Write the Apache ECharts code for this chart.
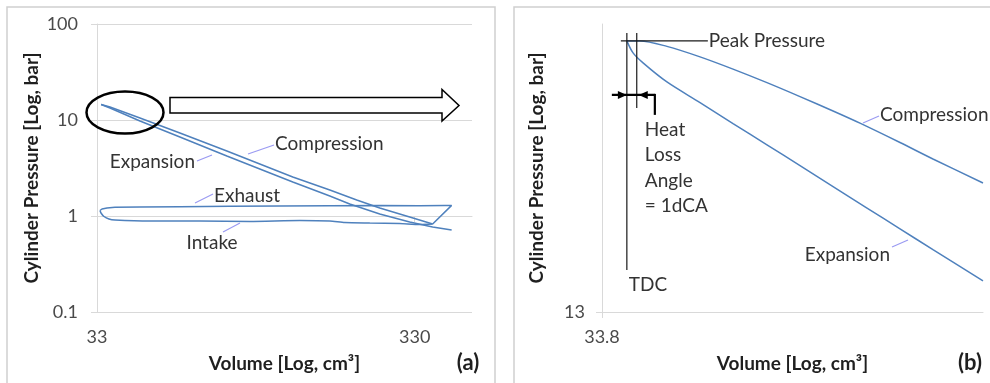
<!DOCTYPE html>
<html>
<head>
<meta charset="utf-8">
<script src="https://cdn.jsdelivr.net/npm/echarts@6/dist/echarts.min.js"></script>
<style>
  html, body { margin: 0; padding: 0; background: #ffffff; }
  #chart { width: 990px; height: 383px; }
</style>
</head>
<body>
<div id="chart"></div>
<script>
// ---------- Panel (a): whole motored cycle, log-log ----------
const aVolumeTicks = [33, 330];
const aPressureTicks = [0.1, 1, 10, 100];
const aVolumeRange = [33, 500];
const aPressureRange = [0.1, 100];

const aCompressionVolume   = [375.9, 318.3, 256.2, 216.8, 178.4, 136.4, 107.4, 84.58, 60.18, 45.06, 36.26, 34.0];
const aCompressionPressure = [0.825, 0.976, 1.212, 1.468, 1.866, 2.548, 3.481, 4.754, 7.319, 10.49, 13.66, 14.5];

const aExpansionVolume   = [34.0, 36.26, 45.06, 60.18, 84.58, 107.4, 136.4, 178.4, 206.1, 256.2, 318.3, 375.9, 431.4];
const aExpansionPressure = [14.5, 13.34, 9.763, 6.653, 4.217, 3.087, 2.261, 1.616, 1.334, 1.049, 0.866, 0.768, 0.715];

const aExhaustVolume   = [375.9, 431.4, 410.1, 342.2, 256.2, 178.4, 124.2, 86.44, 60.18, 45.06, 37.59, 35.48, 34.22, 33.72];
const aExhaustPressure = [0.825, 1.290, 1.290, 1.282, 1.288, 1.279, 1.271, 1.262, 1.250, 1.244, 1.231, 1.212, 1.183, 1.141];

const aIntakeVolume   = [33.72, 33.97, 34.72, 35.99, 37.59, 48.44, 69.57, 99.92, 143.5, 178.4, 198.8, 238.3, 296.0, 342.2, 375.9];
const aIntakePressure = [1.141, 1.075, 0.988, 0.931, 0.909, 0.887, 0.887, 0.877, 0.898, 0.887, 0.855, 0.845, 0.835, 0.816, 0.825];

// ---------- Panel (b): close-up around TDC ----------
const bVolumeTicks = [33.8];
const bPressureTicks = [13];
const bVolumeRange = [33.8, 37];
const bPressureRange = [13, 14.6];

const bCompressionVolume   = [37.0, 36.563, 36.278, 35.935, 35.706, 35.427, 35.150, 34.868, 34.596, 34.325, 34.106, 34.0];
const bCompressionPressure = [13.694, 13.827, 13.919, 14.028, 14.097, 14.179, 14.259, 14.337, 14.408, 14.469, 14.501, 14.501];

const bExpansionVolume   = [34.0, 34.050, 34.131, 34.325, 34.596, 34.868, 35.150, 35.427, 35.706, 35.995, 36.278, 36.563, 37.0];
const bExpansionPressure = [14.501, 14.431, 14.373, 14.263, 14.145, 14.026, 13.906, 13.790, 13.674, 13.556, 13.443, 13.331, 13.164];

const tdcVolume = 34.0;        // top dead centre
const heatLossVolume = 34.08;  // 1 dCA after TDC
const peakPressure = 14.501;

// ---------- helpers ----------
const ax = v => Math.log10(v / aVolumeRange[0]);
const ay = p => Math.log10(p);
const bx = v => Math.log10(v / bVolumeRange[0]);
const by = p => Math.log10(p / bPressureRange[0]);
const pairs = (vs, ps, fx, fy) => vs.map((v, i) => [fx(v), fy(ps[i])]);
const tickFormatter = (ticks, f) => val => {
  const t = ticks.find(t => Math.abs(f(t) - val) < 1e-6);
  return t === undefined ? '' : String(t);
};

const FONT = 'Lato, "Open Sans", sans-serif';
const GRID_GREY = '#d9d9d9';
const CURVE = '#4f81bd';
const LEADER = '#9a9af2';
const TEXT = '#333333';
const TICK_TEXT = '#4a4a4a';
const TITLE = '#1f1f1f';

function axisBase(extra) {
  return Object.assign({
    type: 'value',
    axisLine: { show: true, lineStyle: { color: GRID_GREY, width: 1 } },
    axisTick: { show: true, length: 6, lineStyle: { color: GRID_GREY, width: 1 } },
    splitLine: { show: true, showMaxLine: false, lineStyle: { color: GRID_GREY, width: 1 } },
    axisLabel: { color: TICK_TEXT, fontFamily: FONT, fontSize: 18 },
    nameLocation: 'middle',
    nameTextStyle: { color: TITLE, fontFamily: FONT, fontSize: 19, fontWeight: 'bold' }
  }, extra);
}

const curveSeries = (name, data, xi, smooth) => ({
  name, type: 'line', xAxisIndex: xi, yAxisIndex: xi, data,
  symbol: 'none', smooth, animation: false, silent: true,
  lineStyle: { color: CURVE, width: 1.5 }
});

const chart = echarts.init(document.getElementById('chart'), null, { renderer: 'canvas' });

chart.setOption({
  backgroundColor: '#ffffff',
  animation: false,
  grid: [
    { left: 97, top: 24, width: 375, height: 288 },
    { left: 602, top: 24, width: 381, height: 288 }
  ],
  xAxis: [
    axisBase({
      gridIndex: 0, min: 0, max: ax(aVolumeRange[1]), interval: 1,
      name: 'Volume [Log, cm³]', nameGap: 42,
      axisTick: { show: true, length: 6, customValues: aVolumeTicks.map(ax), lineStyle: { color: GRID_GREY } },
      axisLabel: { color: TICK_TEXT, fontFamily: FONT, fontSize: 18, margin: 16,
        customValues: aVolumeTicks.map(ax), formatter: tickFormatter(aVolumeTicks, ax) }
    }),
    axisBase({
      gridIndex: 1, min: 0, max: bx(bVolumeRange[1]), interval: 1,
      name: 'Volume [Log, cm³]', nameGap: 42,
      splitLine: { show: false },
      axisTick: { show: true, length: 6, customValues: bVolumeTicks.map(bx), lineStyle: { color: GRID_GREY } },
      axisLabel: { color: TICK_TEXT, fontFamily: FONT, fontSize: 18, margin: 16,
        customValues: bVolumeTicks.map(bx), formatter: tickFormatter(bVolumeTicks, bx) }
    })
  ],
  yAxis: [
    axisBase({
      gridIndex: 0, min: ay(aPressureRange[0]), max: ay(aPressureRange[1]), interval: 1,
      name: 'Cylinder Pressure [Log, bar]', nameGap: 56,
      splitLine: { show: true, lineStyle: { color: GRID_GREY, width: 1 } },
      axisTick: { show: true, length: 6, customValues: aPressureTicks.map(ay), lineStyle: { color: GRID_GREY } },
      axisLabel: { color: TICK_TEXT, fontFamily: FONT, fontSize: 18, margin: 19,
        customValues: aPressureTicks.map(ay), formatter: tickFormatter(aPressureTicks, ay) }
    }),
    axisBase({
      gridIndex: 1, min: 0, max: by(bPressureRange[1]), interval: 1,
      name: 'Cylinder Pressure [Log, bar]', nameGap: 56,
      splitLine: { show: false },
      axisTick: { show: true, length: 6, customValues: bPressureTicks.map(by), lineStyle: { color: GRID_GREY } },
      axisLabel: { color: TICK_TEXT, fontFamily: FONT, fontSize: 18, margin: 17,
        customValues: bPressureTicks.map(by), formatter: tickFormatter(bPressureTicks, by) }
    })
  ],
  series: [
    curveSeries('Compression', pairs(aCompressionVolume, aCompressionPressure, ax, ay), 0, false),
    curveSeries('Expansion', pairs(aExpansionVolume, aExpansionPressure, ax, ay), 0, false),
    curveSeries('Exhaust', pairs(aExhaustVolume, aExhaustPressure, ax, ay), 0, false),
    curveSeries('Intake', pairs(aIntakeVolume, aIntakePressure, ax, ay), 0, 0.2),
    curveSeries('Compression', pairs(bCompressionVolume, bCompressionPressure, bx, by), 1, 0.3),
    curveSeries('Expansion', pairs(bExpansionVolume, bExpansionPressure, bx, by), 1, 0.3)
  ]
});

// ---------- annotations ----------
const txt = (text, x, y, opts) => Object.assign({
  type: 'text', z: 10, silent: true,
  style: Object.assign({ text, x, y, fill: TEXT, font: '19px ' + FONT, align: 'left', verticalAlign: 'middle' }, opts || {})
});
const seg = (x1, y1, x2, y2, stroke, w) => ({
  type: 'line', z: 10, silent: true,
  shape: { x1, y1, x2, y2 }, style: { stroke, lineWidth: w }
});

const tdc = chart.convertToPixel({ gridIndex: 1 }, [bx(tdcVolume), by(peakPressure)]);
const hl = chart.convertToPixel({ gridIndex: 1 }, [bx(heatLossVolume), by(peakPressure)]);
const tx = tdc[0], ty = tdc[1], hx = hl[0];
const arrowY = ty + 54;

chart.setOption({
  graphic: [
    // panel frames
    { type: 'rect', z: 0, silent: true, shape: { x: 7, y: 7, width: 488, height: 420 },
      style: { fill: 'none', stroke: '#d0d0d0', lineWidth: 1.5 } },
    { type: 'rect', z: 0, silent: true, shape: { x: 514, y: 7, width: 500, height: 420 },
      style: { fill: 'none', stroke: '#d0d0d0', lineWidth: 1.5 } },

    // panel (a) callouts
    seg(248, 154, 274, 145, LEADER, 1.2), txt('Compression', 275, 144),
    seg(197, 161, 212, 155, LEADER, 1.2), txt('Expansion', 195, 162, { align: 'right' }),
    seg(195, 203, 213, 194, LEADER, 1.2), txt('Exhaust', 214, 196),
    seg(223, 232, 240, 223, LEADER, 1.2), txt('Intake', 212, 243, { align: 'center' }),

    // panel (a) zoom marker and arrow
    { type: 'ellipse', z: 10, silent: true, shape: { cx: 125, cy: 112.5, rx: 38.5, ry: 21 },
      style: { fill: 'none', stroke: '#000000', lineWidth: 2.5 } },
    { type: 'polygon', z: 10, silent: true,
      shape: { points: [[170, 97.5], [442, 97.5], [442, 89.5], [459, 105.5], [442, 121], [442, 113], [170, 113]] },
      style: { fill: '#ffffff', stroke: '#000000', lineWidth: 1.5 } },

    // panel (b) TDC, peak pressure and heat-loss angle markers
    seg(tx, ty - 8, tx, 270, '#1a1a1a', 1.2),
    seg(hx, ty - 8, hx, ty + 67, '#1a1a1a', 1.2),
    seg(tx - 6, ty, tx + 81, ty, '#1a1a1a', 1.2),
    seg(tx - 15, arrowY, tx + 28, arrowY, '#000000', 2.2),
    seg(tx + 28, arrowY - 1, tx + 28, arrowY + 20, '#000000', 2.2),
    { type: 'polygon', z: 10, silent: true,
      shape: { points: [[tx - 9, arrowY - 4], [tx, arrowY], [tx - 9, arrowY + 4]] },
      style: { fill: '#000000' } },
    { type: 'polygon', z: 10, silent: true,
      shape: { points: [[hx + 11, arrowY - 4], [hx + 2, arrowY], [hx + 11, arrowY + 4]] },
      style: { fill: '#000000' } },

    txt('Peak Pressure', tx + 82, ty),
    txt('TDC', tx + 2, 285),
    txt('Heat\nLoss\nAngle\n= 1dCA', tx + 18, 168, { lineHeight: 25.5 }),

    seg(863, 123, 879, 116, LEADER, 1.2), txt('Compression', 880, 115),
    seg(892, 247, 908, 240, LEADER, 1.2), txt('Expansion', 890, 255, { align: 'right' }),

    // panel tags
    txt('(a)', 468, 363, { align: 'center', font: 'bold 22px ' + FONT, fill: '#1f1f1f' }),
    txt('(b)', 970, 363, { align: 'center', font: 'bold 22px ' + FONT, fill: '#1f1f1f' })
  ]
});
</script>
</body>
</html>
